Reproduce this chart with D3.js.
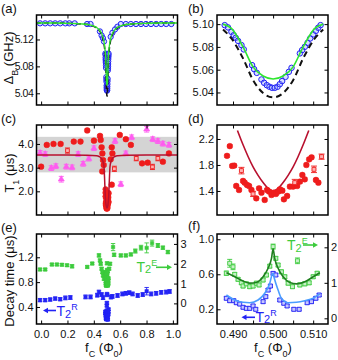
<!DOCTYPE html>
<html>
<head>
<meta charset="utf-8">
<script src="https://cdn.jsdelivr.net/npm/d3@7"></script>
<style>
  body { margin: 0; background: #fff; }
  svg { display: block; }
</style>
</head>
<body>
<div id="chart"></div>
<script>
// ---------- data ----------
// (a) blue circles away from the dip
const aOuterF = [-0.008, 0.031, 0.069, 0.107, 0.145, 0.184, 0.214, 0.255, 0.349, 0.375,
  0.446, 0.459, 0.469, 0.477, 0.528, 0.541, 0.561, 0.579,
  0.605, 0.643, 0.681, 0.720, 0.758, 0.796, 0.834, 0.873, 0.911, 0.949, 0.988];
const aOuterV = [5.144, 5.144, 5.144, 5.144, 5.144, 5.144, 5.144, 5.144, 5.143, 5.143,
  5.132, 5.126, 5.122, 5.117, 5.124, 5.130, 5.135, 5.139,
  5.143, 5.143, 5.143, 5.143, 5.143, 5.143, 5.143, 5.143, 5.143, 5.143, 5.143];
// (b) blue circles near the symmetry point (also drawn in a)
const bF = [0.48792, 0.48875, 0.4896, 0.49018, 0.49068, 0.49125, 0.4921, 0.49268, 0.49475, 0.49525,
  0.49593, 0.4971, 0.49775, 0.49843, 0.4991, 0.49975, 0.50043, 0.5011, 0.50168, 0.50225,
  0.5031, 0.50393, 0.5046, 0.50668, 0.50725, 0.50793, 0.5086, 0.50925, 0.51, 0.51068, 0.51125, 0.51185];
const bV = [5.0991, 5.0971, 5.0932, 5.0903, 5.088, 5.0853, 5.0816, 5.0778, 5.064, 5.0605,
  5.0572, 5.0514, 5.0485, 5.0464, 5.045, 5.0441, 5.0441, 5.045, 5.0473, 5.05,
  5.0537, 5.0581, 5.0616, 5.0743, 5.0772, 5.0801, 5.0836, 5.0874, 5.091, 5.0941, 5.0968, 5.0991];
// (a)/(b) theory curves
const abCurveF = [-0.04, 0.1, 0.2, 0.3, 0.36, 0.4, 0.43, 0.45, 0.465, 0.475, 0.4825, 0.4875, 0.4896, 0.4925,
  0.495, 0.4975, 0.5, 0.5025, 0.505, 0.5075, 0.5104, 0.5125, 0.5175, 0.525, 0.535, 0.55, 0.57, 0.6,
  0.64, 0.7, 0.8, 0.9, 1.04];
const abBlack = [5.1445, 5.1445, 5.144, 5.1432, 5.142, 5.1395, 5.136, 5.131, 5.124, 5.116, 5.106, 5.0953, 5.0874, 5.0699,
  5.0508, 5.0395, 5.0357, 5.0395, 5.0508, 5.0699, 5.0874, 5.0953, 5.106, 5.116, 5.124, 5.131, 5.136, 5.1395,
  5.142, 5.1432, 5.144, 5.1445, 5.1445];
const abGreen = [5.1445, 5.1445, 5.144, 5.1432, 5.142, 5.1398, 5.1365, 5.132, 5.126, 5.119, 5.110, 5.100, 5.0962, 5.080,
  5.0625, 5.0544, 5.0518, 5.0544, 5.0625, 5.080, 5.0962, 5.100, 5.110, 5.119, 5.126, 5.132, 5.1365, 5.1398,
  5.142, 5.1432, 5.144, 5.1445, 5.1445];

// (c) T1 data
const cDotF = [0.0, 0.043, 0.094, 0.148, 0.248, 0.299, 0.350, 0.401, 0.447, 0.452, 0.459, 0.465, 0.470, 0.475,
  0.464, 0.536, 0.541, 0.528, 0.536, 0.597, 0.643, 0.681, 0.766, 0.809, 0.924, 0.970];
const cDotV = [3.04, 3.96, 4.00, 4.00, 4.10, 4.10, 4.57, 4.14, 4.34, 4.17, 3.86, 3.60, 3.32, 3.11,
  2.84, 3.86, 3.60, 3.35, 2.28, 4.38, 4.20, 3.96, 3.18, 3.21, 3.25, 3.60];
const cDotE = [0.06, 0.06, 0.06, 0.06, 0.06, 0.06, 0.06, 0.06, 0.06, 0.06, 0.06, 0.06, 0.06, 0.06,
  0.06, 0.06, 0.06, 0.06, 0.06, 0.06, 0.06, 0.06, 0.06, 0.06, 0.06, 0.06];
const cSqF = [0.200, 0.556, 0.722, 0.845, 0.886];
const cSqV = [3.72, 2.95, 3.39, 3.03, 3.39];
const cSqE = [0.11, 0.11, 0.1, 0.11, 0.1];
const cTriF = [-0.008, 0.031, 0.077, 0.112, 0.153, 0.191, 0.235, 0.281, 0.319, 0.362, 0.401,
  0.561, 0.605, 0.643, 0.687, 0.801, 0.847, 0.886, 0.924, 0.970];
const cTriV = [3.62, 3.57, 2.98, 3.06, 2.51, 3.04, 3.01, 3.57, 3.16, 3.38, 3.82,
  4.12, 2.30, 3.60, 4.28, 4.62, 4.20, 4.12, 4.01, 3.96];
const cTriE = [0.1, 0.1, 0.1, 0.1, 0.12, 0.1, 0.1, 0.1, 0.1, 0.1, 0.1,
  0.1, 0.1, 0.1, 0.1, 0.12, 0.1, 0.1, 0.1, 0.1];
const cBand = [2.80, 4.30];
const cCurveF = [-0.04, 0.2, 0.35, 0.42, 0.44, 0.46, 0.47, 0.477, 0.482, 0.487, 0.493, 0.5,
  0.507, 0.513, 0.518, 0.523, 0.53, 0.54, 0.56, 0.58, 0.65, 0.8, 1.04];
const cCurveV = [3.53, 3.53, 3.52, 3.50, 3.47, 3.37, 3.25, 3.05, 2.5, 1.8, 1.42, 1.3,
  1.42, 1.8, 2.5, 3.05, 3.25, 3.37, 3.47, 3.50, 3.52, 3.53, 3.53];

// (d) T1 near the symmetry point
const dDotF = [0.4885, 0.4892, 0.4898, 0.4903, 0.4908, 0.4915, 0.4925, 0.4929, 0.4935, 0.494, 0.4946,
  0.4958, 0.4965, 0.4971, 0.4979, 0.4985, 0.499, 0.4996, 0.5002, 0.5007, 0.5013, 0.5017, 0.5023,
  0.5027, 0.5035, 0.5042, 0.505, 0.506, 0.5067, 0.5073, 0.5079, 0.5083, 0.509, 0.5096, 0.5107, 0.5113];
const dDotV = [1.94, 2.09, 1.785, 1.79, 1.477, 1.415, 1.554, 1.528, 1.492, 1.477, 1.415,
  1.287, 1.441, 1.374, 1.262, 1.415, 1.39, 1.338, 1.374, 1.354, 1.39, 1.426, 1.405,
  1.272, 1.323, 1.467, 1.467, 1.477, 1.544, 1.646, 1.579, 1.80, 1.887, 1.918, 1.569, 1.528];
const dDotE = [0.025, 0.025, 0.025, 0.025, 0.025, 0.025, 0.025, 0.025, 0.025, 0.025, 0.025,
  0.025, 0.025, 0.025, 0.025, 0.025, 0.025, 0.025, 0.025, 0.025, 0.025, 0.025, 0.025,
  0.025, 0.025, 0.025, 0.025, 0.025, 0.025, 0.025, 0.025, 0.025, 0.025, 0.025, 0.025, 0.025];
const dSqF = [0.4921, 0.495, 0.5054, 0.5102, 0.5121];
const dSqV = [1.713, 1.354, 1.528, 1.733, 1.928];
const dSqE = [0.05, 0.04, 0.05, 0.05, 0.04];
const dCurveF = [0.4911, 0.4925, 0.49375, 0.495, 0.49625, 0.4975, 0.49875, 0.5,
  0.50125, 0.5025, 0.50375, 0.505, 0.50625, 0.5075, 0.5089];
const dCurveV = [2.33, 2.11, 1.93, 1.77, 1.64, 1.53, 1.44, 1.40,
  1.44, 1.53, 1.64, 1.77, 1.93, 2.11, 2.33];

// (f) decay times near the symmetry point
const fGreenF = [0.48833, 0.48917, 0.49, 0.49042, 0.49125, 0.49208, 0.4925, 0.49333, 0.49417, 0.495,
  0.49583, 0.4965, 0.4975, 0.49833, 0.49917, 0.5, 0.50067, 0.50125, 0.50208, 0.50292,
  0.50375, 0.50483, 0.50608, 0.50667, 0.50792, 0.509, 0.51, 0.511];
const fGreenV = [1.27, 1.55, 1.45, 1.24, 1.10, 1.00, 0.91, 0.97, 0.89, 0.91,
  0.99, 0.94, 1.08, 1.22, 1.47, 2.02, 1.69, 1.50, 1.31, 1.17,
  0.99, 0.89, 1.62, 0.94, 0.97, 1.00, 1.17, 1.27];
const fGreenE = [0.06, 0.11, 0.08, 0.05, 0.05, 0.05, 0.05, 0.05, 0.05, 0.05,
  0.05, 0.05, 0.05, 0.05, 0.05, 0.07, 0.05, 0.05, 0.05, 0.05,
  0.05, 0.05, 0.08, 0.05, 0.05, 0.05, 0.05, 0.05];
const fBlueF = [0.48833, 0.48917, 0.49017, 0.49083, 0.49167, 0.4925, 0.49333, 0.49417, 0.495, 0.49567,
  0.4975, 0.49817, 0.49875, 0.49933, 0.5, 0.50067, 0.50167, 0.50267, 0.5035, 0.50517,
  0.5065, 0.5085, 0.50958, 0.51067, 0.5115];
const fBlueV = [0.326, 0.298, 0.298, 0.275, 0.26, 0.223, 0.211, 0.211, 0.238, 0.2,
  0.287, 0.344, 0.42, 0.466, 0.61, 0.592, 0.306, 0.269, 0.238, 0.2,
  0.2, 0.275, 0.287, 0.326, 0.363];
const fBlueE = [0.018, 0.018, 0.018, 0.018, 0.018, 0.018, 0.018, 0.018, 0.018, 0.018,
  0.018, 0.018, 0.018, 0.018, 0.018, 0.018, 0.018, 0.018, 0.018, 0.018,
  0.018, 0.018, 0.018, 0.018, 0.018];
const fGreenFitF = [0.48835, 0.49043, 0.4925, 0.49417, 0.49583, 0.4975, 0.49875, 0.4996, 0.5,
  0.5004, 0.50125, 0.5025, 0.50417, 0.50583, 0.50792, 0.51, 0.51167];
const fGreenFitV = [1.285, 1.17, 1.05, 0.99, 1.01, 1.17, 1.41, 1.69, 1.96,
  1.69, 1.41, 1.17, 1.01, 0.97, 1.03, 1.17, 1.285];
const fBlueFitF = [0.48835, 0.49043, 0.4925, 0.49417, 0.49625, 0.49792, 0.49917, 0.49972, 0.5,
  0.5003, 0.50125, 0.50208, 0.50375, 0.50583, 0.50792, 0.51, 0.51167];
const fBlueFitV = [0.363, 0.306, 0.28, 0.275, 0.306, 0.383, 0.497, 0.592, 0.61,
  0.554, 0.42, 0.326, 0.275, 0.28, 0.298, 0.326, 0.375];

// (e) decay times across the flux range (centre points come from f)
const eGreenF = [-0.008, 0.031, 0.082, 0.12, 0.158, 0.197, 0.235, 0.350, 0.388, 0.439, 0.447, 0.452,
  0.459, 0.465, 0.470, 0.477, 0.516, 0.523, 0.546, 0.554, 0.605, 0.643, 0.681, 0.715, 0.758, 0.801,
  0.842, 0.886, 0.924, 0.962];
const eGreenV = [1.71, 1.71, 1.96, 1.96, 1.95, 1.92, 1.87, 1.84, 2.01, 2.42, 2.17, 2.0,
  1.75, 1.58, 1.41, 1.24, 1.75, 2.0, 2.84, 2.45, 2.42, 2.42, 2.47, 2.64, 2.81, 2.80,
  3.04, 2.92, 2.81, 2.59];
const eGreenE = [0.06, 0.06, 0.06, 0.06, 0.06, 0.06, 0.08, 0.06, 0.06, 0.08, 0.07, 0.07,
  0.07, 0.07, 0.07, 0.07, 0.07, 0.07, 0.18, 0.08, 0.07, 0.07, 0.07, 0.1, 0.12, 0.25,
  0.15, 0.1, 0.08, 0.08];
const eBlueF = [-0.008, 0.031, 0.069, 0.107, 0.145, 0.184, 0.222, 0.337, 0.375, 0.426, 0.439, 0.459,
  0.470, 0.530, 0.541, 0.58, 0.617, 0.643, 0.669, 0.694, 0.733, 0.771, 0.801, 0.835, 0.873, 0.911,
  0.949, 0.975];
const eBlueV = [0.51, 0.51, 0.52, 0.535, 0.525, 0.546, 0.552, 0.562, 0.562, 0.59, 0.64, 0.60,
  0.55, 0.56, 0.57, 0.585, 0.61, 0.62, 0.63, 0.61, 0.585, 0.60, 0.654, 0.61, 0.62, 0.635,
  0.64, 0.65];
const eBlueE = [0.025, 0.025, 0.025, 0.025, 0.025, 0.03, 0.03, 0.03, 0.03, 0.03, 0.03, 0.03,
  0.03, 0.03, 0.03, 0.03, 0.03, 0.03, 0.03, 0.03, 0.03, 0.03, 0.06, 0.03, 0.03, 0.03,
  0.03, 0.03];

// tick values
const xTicksWide = [0, 0.2, 0.4, 0.6, 0.8, 1.0];
const xTicksNarrow = [0.490, 0.495, 0.500, 0.505, 0.510];
const xLabelsNarrow = [0.490, 0.500, 0.510];
const aTicks = [5.04, 5.08, 5.12];
const bTicks = [5.04, 5.06, 5.08, 5.10];
const cTicks = [2.0, 3.0, 4.0];
const dTicks = [1.4, 1.8, 2.2];
const eTicks = [0.4, 0.8, 1.2];
const eRightTicks = [0, 1, 2, 3];
const fTicks = [0.2, 0.6, 1.0];
const fRightTicks = [0, 1, 2];

// ---------- drawing ----------
const FONT = '"Liberation Sans", Arial, Helvetica, sans-serif';
const BLUE = "#2323f5", GREEN = "#3ccb3c", RED = "#ee1c1c", MAG = "#ff5cf0";

const svg = d3.select("#chart").append("svg")
  .attr("width", 338).attr("height", 360)
  .attr("font-family", FONT);

const COL = { left: [36.5, 177.5], right: [217, 328] };
const ROW = [[15, 105], [125, 215], [234, 324]];

// axis titles first, so tick labels sit on top where they touch
function yTitle(cx, cy, parts) {
  const t = svg.append("text").attr("transform", `translate(${cx},${cy}) rotate(-90)`)
    .attr("text-anchor", "middle").attr("font-size", 13).attr("fill", "#111");
  parts.forEach(p => {
    const s = t.append("tspan").text(p.t);
    if (p.sub) s.attr("font-size", 9).attr("baseline-shift", "sub");
  });
}
yTitle(13, 58, [{ t: "Δ" }, { t: "B", sub: true }, { t: " (GHz)" }]);
yTitle(13.5, 173, [{ t: "T" }, { t: "1", sub: true }, { t: " (μs)" }]);
yTitle(13.5, 281, [{ t: "Decay time (μs)" }]);

function makePanel(name, col, row, xDom, yDom, yRDom) {
  const [l, r] = COL[col], [t, b] = ROW[row];
  const x = d3.scaleLinear().domain(xDom).range([l, r]);
  const y = d3.scaleLinear().domain(yDom).range([b, t]);
  const yR = yRDom ? d3.scaleLinear().domain(yRDom).range([b, t]) : y;
  svg.append("clipPath").attr("id", "clip-" + name)
    .append("rect").attr("x", l).attr("y", t).attr("width", r - l).attr("height", b - t);
  const g = svg.append("g");
  const plot = g.append("g").attr("clip-path", `url(#clip-${name})`);
  return { x, y, yR, g, plot, l, r, t, b };
}

function finishPanel(p, o) {
  const tick = 3.5;
  const inward = a => a.tickSizeInner(-tick).tickSizeOuter(0);
  const none = () => "";
  p.g.append("g").attr("transform", `translate(0,${p.b})`)
    .call(inward(d3.axisBottom(p.x)).tickValues(o.xTicks).tickPadding(6).tickFormat(o.xFmt || none));
  p.g.append("g").attr("transform", `translate(0,${p.t})`)
    .call(inward(d3.axisTop(p.x)).tickValues(o.xTicks).tickFormat(none));
  const left = p.g.append("g").attr("transform", `translate(${p.l},0)`)
    .call(inward(d3.axisLeft(p.y)).tickValues(o.yTicks).tickPadding(3).tickFormat(o.yFmt));
  p.g.append("g").attr("transform", `translate(${p.r},0)`)
    .call(inward(d3.axisRight(p.yR)).tickValues(o.yRTicks || o.yTicks).tickPadding(3)
      .tickFormat(o.yRFmt || none));
  p.g.selectAll(".domain").remove();
  p.g.selectAll(".tick line").attr("stroke", "#000").attr("stroke-width", 1);
  p.g.selectAll(".tick text").attr("font-size", 11).attr("font-family", FONT).attr("fill", "#111");
  if (o.tightLeft) left.selectAll(".tick text").attr("font-size", 10.5).attr("letter-spacing", -0.4);
  p.g.append("rect")
    .attr("x", p.l).attr("y", p.t).attr("width", p.r - p.l).attr("height", p.b - p.t)
    .attr("fill", "none").attr("stroke", "#000").attr("stroke-width", 1.5);
}

function errorBars(sel, x, y, F, V, E, color, cap) {
  sel.append("g").selectAll("path").data(d3.range(F.length)).join("path")
    .attr("d", i => {
      const cx = x(F[i]), y1 = y(V[i] - E[i]), y2 = y(V[i] + E[i]);
      return `M${cx},${y1}V${y2}M${cx - cap},${y1}H${cx + cap}M${cx - cap},${y2}H${cx + cap}`;
    })
    .attr("fill", "none").attr("stroke", color).attr("stroke-width", 0.9);
}

function markers(sel, x, y, F, V, type, size, fill, stroke, sw) {
  const sym = d3.symbol().type(type).size(size);
  sel.append("g").selectAll("path").data(d3.range(F.length)).join("path")
    .attr("transform", i => `translate(${x(F[i])},${y(V[i])})`)
    .attr("d", sym)
    .attr("fill", fill).attr("stroke", stroke).attr("stroke-width", sw);
}

function curve(sel, x, y, F, V, color, width, dash) {
  const pts = d3.zip(F, V);
  sel.append("path").datum(pts)
    .attr("d", d3.line().x(d => x(d[0])).y(d => y(d[1])).curve(d3.curveMonotoneX))
    .attr("fill", "none").attr("stroke", color).attr("stroke-width", width)
    .attr("stroke-dasharray", dash || null);
}

function panelLabel(txt, x, y) {
  svg.append("text").attr("x", x).attr("y", y).attr("font-size", 13).attr("fill", "#111").text(txt);
}

// ----- (a)
const pa = makePanel("a", "left", 0, [-0.035, 1.035], [5.0226, 5.1564]);
markers(pa.plot, pa.x, pa.y, aOuterF.concat(bF), aOuterV.concat(bV), d3.symbolCircle, 22,
  "rgba(140,160,255,0.35)", BLUE, 1);
curve(pa.plot, pa.x, pa.y, abCurveF, abBlack, "#111", 1.6, "5,3");
curve(pa.plot, pa.x, pa.y, abCurveF, abGreen, "#2ee62e", 1.3);
finishPanel(pa, { xTicks: xTicksWide, yTicks: aTicks, yFmt: d3.format(".2f"), tightLeft: true });

// ----- (b)
const pb = makePanel("b", "right", 0, [0.486, 0.5137], [5.029, 5.108]);
const bIdx = d3.range(abCurveF.length).filter(i => Math.abs(abCurveF[i] - 0.5) <= 0.0126);
markers(pb.plot, pb.x, pb.y, bF, bV, d3.symbolCircle, 24, "rgba(140,160,255,0.35)", BLUE, 1);
curve(pb.plot, pb.x, pb.y, bIdx.map(i => abCurveF[i]), bIdx.map(i => abBlack[i]), "#111", 2, "6,4");
curve(pb.plot, pb.x, pb.y, bIdx.map(i => abCurveF[i]), bIdx.map(i => abGreen[i]), "#2ee62e", 1.6);
finishPanel(pb, { xTicks: xTicksNarrow, yTicks: bTicks, yFmt: d3.format(".2f") });

// ----- (c)
const pc = makePanel("c", "left", 1, [-0.035, 1.035], [1.0, 4.8]);
pc.plot.append("rect")
  .attr("x", pc.l).attr("width", pc.r - pc.l)
  .attr("y", pc.y(cBand[1])).attr("height", pc.y(cBand[0]) - pc.y(cBand[1]))
  .attr("fill", "#d4d4d4");
errorBars(pc.plot, pc.x, pc.y, cTriF, cTriV, cTriE, MAG, 2.5);
markers(pc.plot, pc.x, pc.y, cTriF, cTriV, d3.symbolTriangle, 16, MAG, MAG, 0.6);
errorBars(pc.plot, pc.x, pc.y, cSqF, cSqV, cSqE, RED, 2.5);
markers(pc.plot, pc.x, pc.y, cSqF, cSqV, d3.symbolSquare, 14, "#ffb0b0", RED, 0.9);
errorBars(pc.plot, pc.x, pc.y, dDotF.concat(dSqF), dDotV.concat(dSqV), dDotE.concat(dSqE), RED, 2);
markers(pc.plot, pc.x, pc.y, dDotF.concat(dSqF), dDotV.concat(dSqV), d3.symbolCircle, 24, RED, RED, 0.5);
errorBars(pc.plot, pc.x, pc.y, cDotF, cDotV, cDotE, RED, 2.5);
markers(pc.plot, pc.x, pc.y, cDotF, cDotV, d3.symbolCircle, 26, RED, RED, 0.5);
curve(pc.plot, pc.x, pc.y, cCurveF, cCurveV, "#b8102e", 1.5);
finishPanel(pc, { xTicks: xTicksWide, yTicks: cTicks, yFmt: d3.format(".1f") });

// ----- (d)
const pd = makePanel("d", "right", 1, [0.486, 0.5137], [1.03, 2.415]);
curve(pd.plot, pd.x, pd.y, dCurveF, dCurveV, "#b8102e", 1.6);
errorBars(pd.plot, pd.x, pd.y, dDotF, dDotV, dDotE, RED, 2.5);
markers(pd.plot, pd.x, pd.y, dDotF, dDotV, d3.symbolCircle, 26, RED, RED, 0.5);
errorBars(pd.plot, pd.x, pd.y, dSqF, dSqV, dSqE, RED, 3);
markers(pd.plot, pd.x, pd.y, dSqF, dSqV, d3.symbolSquare, 16, "#ffb0b0", RED, 0.9);
finishPanel(pd, { xTicks: xTicksNarrow, yTicks: dTicks, yFmt: d3.format(".1f") });

// ----- (e)
const pe = makePanel("e", "left", 2, [-0.035, 1.035], [0.126, 1.575], [-1.04, 3.5]);
const eGF = eGreenF.concat(fGreenF), eGV = eGreenV.concat(fGreenV), eGE = eGreenE.concat(fGreenE);
const eBF = eBlueF.concat(fBlueF), eBV = eBlueV.concat(fBlueV), eBE = eBlueE.concat(fBlueE);
errorBars(pe.plot, pe.x, pe.yR, eGF, eGV, eGE, GREEN, 2.2);
markers(pe.plot, pe.x, pe.yR, eGF, eGV, d3.symbolSquare, 12, GREEN, GREEN, 0.5);
errorBars(pe.plot, pe.x, pe.y, eBF, eBV, eBE, BLUE, 2.2);
markers(pe.plot, pe.x, pe.y, eBF, eBV, d3.symbolSquare, 12, BLUE, BLUE, 0.5);
finishPanel(pe, {
  xTicks: xTicksWide, xFmt: d3.format(".1f"),
  yTicks: eTicks, yFmt: d3.format(".1f"),
  yRTicks: eRightTicks, yRFmt: d3.format("d")
});

// ----- (f)
const pf = makePanel("f", "right", 2, [0.486, 0.5137], [0.032, 1.06], [-0.16, 2.375]);
errorBars(pf.plot, pf.x, pf.yR, fGreenF, fGreenV, fGreenE, GREEN, 2.5);
markers(pf.plot, pf.x, pf.yR, fGreenF, fGreenV, d3.symbolSquare, 16, "#c6f0c6", GREEN, 0.9);
errorBars(pf.plot, pf.x, pf.y, fBlueF, fBlueV, fBlueE, BLUE, 2.5);
markers(pf.plot, pf.x, pf.y, fBlueF, fBlueV, d3.symbolSquare, 16, "#c8c8ff", BLUE, 0.9);
curve(pf.plot, pf.x, pf.yR, fGreenFitF, fGreenFitV, "#1f7f1f", 1.6);
curve(pf.plot, pf.x, pf.y, fBlueFitF, fBlueFitV, "#4a9dff", 1.6);
const narrowFmt = d => xLabelsNarrow.some(v => Math.abs(v - d) < 1e-6) ? d3.format(".3f")(d) : "";
finishPanel(pf, {
  xTicks: xTicksNarrow, xFmt: narrowFmt,
  yTicks: fTicks, yFmt: d3.format(".1f"),
  yRTicks: fRightTicks, yRFmt: d3.format("d")
});

// ----- panel letters
panelLabel("(a)", 1, 13);
panelLabel("(b)", 188, 13);
panelLabel("(c)", 1, 123);
panelLabel("(d)", 188, 123);
panelLabel("(e)", 1, 232);
panelLabel("(f)", 188, 230);

// ----- x titles
function xTitle(cx) {
  const t = svg.append("text").attr("x", cx).attr("y", 352)
    .attr("text-anchor", "middle").attr("font-size", 13).attr("fill", "#111");
  t.append("tspan").text("f");
  t.append("tspan").text("C").attr("font-size", 9).attr("baseline-shift", "sub");
  t.append("tspan").text(" (Φ");
  t.append("tspan").text("0").attr("font-size", 9).attr("baseline-shift", "sub");
  t.append("tspan").text(")");
}
xTitle(104);
xTitle(273);

// ----- T2 annotations with arrows
function t2Label(x, y, sup, color) {
  const t = svg.append("text").attr("x", x).attr("y", y).attr("fill", color).attr("font-size", 14);
  t.append("tspan").text("T");
  t.append("tspan").text("2").attr("font-size", 11).attr("dy", 1.5);
  t.append("tspan").text(sup).attr("font-size", 9).attr("dy", -7.5);
}
function arrow(x1, x2, y, color) {
  const dir = Math.sign(x2 - x1);
  svg.append("line").attr("x1", x1).attr("x2", x2 - dir * 4).attr("y1", y).attr("y2", y)
    .attr("stroke", color).attr("stroke-width", 1.6);
  svg.append("path")
    .attr("d", `M${x2},${y}L${x2 - dir * 5},${y - 2.8}L${x2 - dir * 5},${y + 2.8}Z`)
    .attr("fill", color);
}
arrow(56, 43, 310.5, BLUE);
t2Label(56.5, 316, "R", BLUE);
t2Label(136.5, 271.5, "E", GREEN);
arrow(156, 172, 267.3, GREEN);
t2Label(287, 250, "E", GREEN);
arrow(303, 318, 245, GREEN);
arrow(255, 241.5, 317.3, BLUE);
t2Label(255.5, 321.7, "R", BLUE);
</script>
</body>
</html>
